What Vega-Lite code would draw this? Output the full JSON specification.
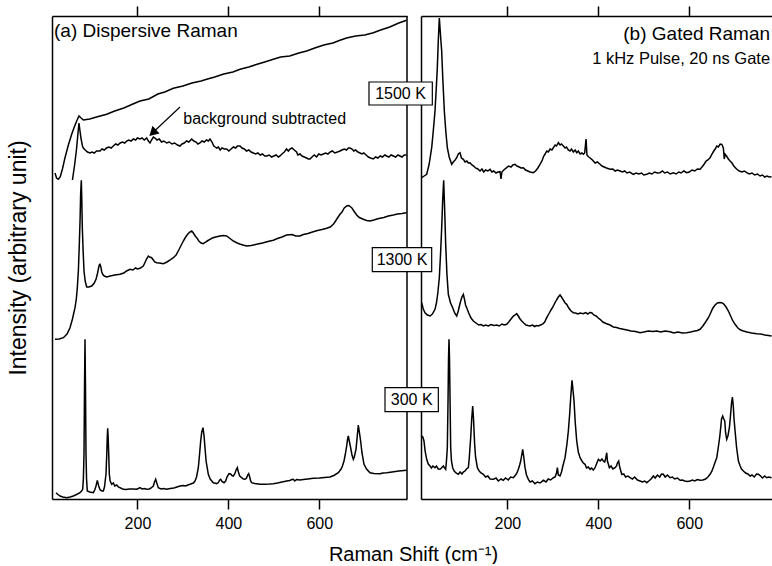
{
"$schema": "https://vega.github.io/schema/vega-lite/v6.json",
"padding": {"left": 7, "top": 5, "right": 0, "bottom": 0},
"config": {"view": {"stroke": null}, "font": "Liberation Sans",
 "axis": {"grid": false, "domainColor": "black", "domainWidth": 1.5, "tickColor": "black", "tickWidth": 1.5, "labelColor": "black", "titleColor": "black", "labelFont": "Liberation Sans", "titleFont": "Liberation Sans", "labelFontSize": 16, "titleFontSize": 20, "titleFontWeight": "normal"}},
"spacing": 14,
"bounds": "flush",
"datasets": {
"left": [
{"s":"a","x":18.6,"y":326},{"s":"a","x":22,"y":321},{"s":"a","x":25.9,"y":319.7},{"s":"a","x":30,"y":322},{"s":"a","x":35,"y":330},{"s":"a","x":40.6,"y":341.3},{"s":"a","x":48,"y":354},{"s":"a","x":55.3,"y":364.7},{"s":"a","x":61,"y":372},{"s":"a","x":66.3,"y":378},{"s":"a","x":71.4,"y":383},{"s":"a","x":76,"y":381},{"s":"a","x":81,"y":379},{"s":"a","x":95,"y":380},{"s":"a","x":110,"y":382},{"s":"a","x":132.3,"y":384.7},{"s":"a","x":150,"y":388},{"s":"a","x":170,"y":391},{"s":"a","x":190,"y":395},{"s":"a","x":205.6,"y":398},{"s":"a","x":225,"y":400},{"s":"a","x":245,"y":405},{"s":"a","x":260,"y":407},{"s":"a","x":278.9,"y":410.7},{"s":"a","x":300,"y":413},{"s":"a","x":320,"y":416},{"s":"a","x":340,"y":418},{"s":"a","x":352.3,"y":419.7},{"s":"a","x":370,"y":422},{"s":"a","x":390,"y":425},{"s":"a","x":410,"y":427},{"s":"a","x":425.6,"y":429.7},{"s":"a","x":445,"y":432},{"s":"a","x":465,"y":435},{"s":"a","x":480,"y":437},{"s":"a","x":498.9,"y":439.7},{"s":"a","x":515,"y":442},{"s":"a","x":535,"y":443},{"s":"a","x":555,"y":446},{"s":"a","x":572.2,"y":448},{"s":"a","x":590,"y":451},{"s":"a","x":610,"y":454},{"s":"a","x":630,"y":456},{"s":"a","x":645.6,"y":458.7},{"s":"a","x":660,"y":461},{"s":"a","x":680,"y":463},{"s":"a","x":700,"y":464},{"s":"a","x":718.9,"y":466.3},{"s":"a","x":735,"y":469},{"s":"a","x":755,"y":472},{"s":"a","x":775,"y":476},{"s":"a","x":792,"y":478.7},
{"s":"b","x":57,"y":319},{"s":"b","x":62,"y":335},{"s":"b","x":66,"y":350},{"s":"b","x":69,"y":365},{"s":"b","x":71.4,"y":376},{"s":"b","x":73,"y":370},{"s":"b","x":76,"y":360},{"s":"b","x":79,"y":353},{"s":"b","x":81,"y":351},{"s":"b","x":85,"y":349},{"s":"b","x":90,"y":347},{"s":"b","x":95.6,"y":346},{"s":"b","x":100,"y":347},{"s":"b","x":105,"y":346},{"s":"b","x":110,"y":348},{"s":"b","x":117.6,"y":348},{"s":"b","x":122,"y":350},{"s":"b","x":127,"y":349},{"s":"b","x":132,"y":351},{"s":"b","x":137,"y":352},{"s":"b","x":142,"y":351},{"s":"b","x":146.9,"y":353},{"s":"b","x":152,"y":355},{"s":"b","x":157,"y":354},{"s":"b","x":162,"y":356},{"s":"b","x":167,"y":357},{"s":"b","x":172,"y":356},{"s":"b","x":176.3,"y":358},{"s":"b","x":181,"y":359},{"s":"b","x":186,"y":358},{"s":"b","x":191,"y":360},{"s":"b","x":196,"y":359},{"s":"b","x":200,"y":361},{"s":"b","x":205.6,"y":360},{"s":"b","x":210,"y":361},{"s":"b","x":215,"y":359},{"s":"b","x":220.3,"y":361},{"s":"b","x":224,"y":358},{"s":"b","x":227.6,"y":356},{"s":"b","x":231,"y":359},{"s":"b","x":235,"y":362},{"s":"b","x":238.6,"y":361},{"s":"b","x":243,"y":359},{"s":"b","x":248,"y":360},{"s":"b","x":253,"y":357},{"s":"b","x":258,"y":358},{"s":"b","x":264.3,"y":356},{"s":"b","x":270,"y":357},{"s":"b","x":276,"y":355},{"s":"b","x":282,"y":356},{"s":"b","x":288,"y":354},{"s":"b","x":293.6,"y":353},{"s":"b","x":298,"y":355},{"s":"b","x":303,"y":356},{"s":"b","x":308,"y":358},{"s":"b","x":313,"y":357},{"s":"b","x":319.3,"y":360},{"s":"b","x":324,"y":358},{"s":"b","x":329,"y":357},{"s":"b","x":333,"y":355},{"s":"b","x":337.6,"y":356},{"s":"b","x":342,"y":358},{"s":"b","x":347,"y":357},{"s":"b","x":352,"y":359},{"s":"b","x":356,"y":358},{"s":"b","x":359.6,"y":360},{"s":"b","x":364,"y":357},{"s":"b","x":368,"y":353},{"s":"b","x":371,"y":352},{"s":"b","x":374.3,"y":351},{"s":"b","x":378,"y":352},{"s":"b","x":382,"y":349},{"s":"b","x":386,"y":351},{"s":"b","x":391,"y":350},{"s":"b","x":396.3,"y":350},{"s":"b","x":401,"y":348},{"s":"b","x":406,"y":350},{"s":"b","x":411,"y":352},{"s":"b","x":416,"y":351},{"s":"b","x":420,"y":353},{"s":"b","x":425.6,"y":353},{"s":"b","x":430,"y":351},{"s":"b","x":435,"y":350},{"s":"b","x":440,"y":348},{"s":"b","x":445,"y":349},{"s":"b","x":450,"y":347},{"s":"b","x":454.9,"y":346},{"s":"b","x":460,"y":345},{"s":"b","x":465,"y":346},{"s":"b","x":470,"y":344},{"s":"b","x":475,"y":345},{"s":"b","x":480,"y":343},{"s":"b","x":484.3,"y":343},{"s":"b","x":490,"y":344},{"s":"b","x":495,"y":342},{"s":"b","x":500,"y":343},{"s":"b","x":505,"y":344},{"s":"b","x":510,"y":342},{"s":"b","x":513.6,"y":343},{"s":"b","x":518,"y":345},{"s":"b","x":523,"y":347},{"s":"b","x":528,"y":350},{"s":"b","x":532,"y":348},{"s":"b","x":535.6,"y":350},{"s":"b","x":540,"y":351},{"s":"b","x":545,"y":349},{"s":"b","x":550,"y":347},{"s":"b","x":553,"y":344},{"s":"b","x":557.6,"y":345},{"s":"b","x":562,"y":343},{"s":"b","x":567,"y":342},{"s":"b","x":572,"y":341},{"s":"b","x":576,"y":340},{"s":"b","x":579.6,"y":340},{"s":"b","x":584,"y":342},{"s":"b","x":589,"y":344},{"s":"b","x":594,"y":342},{"s":"b","x":599,"y":345},{"s":"b","x":604,"y":344},{"s":"b","x":608.9,"y":345},{"s":"b","x":614,"y":346},{"s":"b","x":619,"y":345},{"s":"b","x":624,"y":347},{"s":"b","x":629,"y":348},{"s":"b","x":634,"y":346},{"s":"b","x":640,"y":347},{"s":"b","x":645.6,"y":348},{"s":"b","x":650,"y":349},{"s":"b","x":655,"y":350},{"s":"b","x":660,"y":349},{"s":"b","x":664,"y":351},{"s":"b","x":667.6,"y":351},{"s":"b","x":672,"y":350},{"s":"b","x":676,"y":348},{"s":"b","x":680,"y":349},{"s":"b","x":685,"y":347},{"s":"b","x":689.6,"y":346},{"s":"b","x":694,"y":345},{"s":"b","x":698,"y":346},{"s":"b","x":703,"y":344},{"s":"b","x":708,"y":342},{"s":"b","x":713,"y":341},{"s":"b","x":718.9,"y":340},{"s":"b","x":724,"y":342},{"s":"b","x":729,"y":341},{"s":"b","x":734,"y":343},{"s":"b","x":739,"y":342},{"s":"b","x":744,"y":344},{"s":"b","x":748.3,"y":343},{"s":"b","x":753,"y":342},{"s":"b","x":758,"y":344},{"s":"b","x":763,"y":343},{"s":"b","x":768,"y":342},{"s":"b","x":773,"y":344},{"s":"b","x":777.6,"y":343},{"s":"b","x":782,"y":342},{"s":"b","x":787,"y":344},{"s":"b","x":792,"y":344},
{"s":"c","x":18.6,"y":159.7},{"s":"c","x":28,"y":160},{"s":"c","x":37,"y":161.3},{"s":"c","x":45,"y":165},{"s":"c","x":51.6,"y":171.3},{"s":"c","x":57,"y":180},{"s":"c","x":62.6,"y":191.3},{"s":"c","x":65.5,"y":200},{"s":"c","x":67.7,"y":211.3},{"s":"c","x":70,"y":228},{"s":"c","x":72.1,"y":254.7},{"s":"c","x":73.8,"y":280},{"s":"c","x":75,"y":304.7},{"s":"c","x":76.5,"y":318.7},{"s":"c","x":77.5,"y":300},{"s":"c","x":78.7,"y":271.3},{"s":"c","x":80.5,"y":248},{"s":"c","x":82.4,"y":228},{"s":"c","x":85,"y":218},{"s":"c","x":88.3,"y":212},{"s":"c","x":93,"y":212},{"s":"c","x":99.3,"y":213},{"s":"c","x":105,"y":216},{"s":"c","x":109,"y":220},{"s":"c","x":111.7,"y":224.7},{"s":"c","x":114,"y":230},{"s":"c","x":116,"y":234},{"s":"c","x":117.6,"y":234.7},{"s":"c","x":119.5,"y":232},{"s":"c","x":121.5,"y":227},{"s":"c","x":123.5,"y":224.7},{"s":"c","x":127,"y":223},{"s":"c","x":132.3,"y":222},{"s":"c","x":140,"y":223},{"s":"c","x":150,"y":224},{"s":"c","x":161.6,"y":224.7},{"s":"c","x":170,"y":226},{"s":"c","x":176,"y":228},{"s":"c","x":183.6,"y":229.7},{"s":"c","x":190,"y":229},{"s":"c","x":196,"y":231},{"s":"c","x":200,"y":230},{"s":"c","x":205.6,"y":230.7},{"s":"c","x":210,"y":232},{"s":"c","x":212.9,"y":233},{"s":"c","x":216,"y":236},{"s":"c","x":220,"y":240},{"s":"c","x":223.9,"y":243},{"s":"c","x":227,"y":242},{"s":"c","x":231.2,"y":241.3},{"s":"c","x":235,"y":239},{"s":"c","x":238,"y":237},{"s":"c","x":242.3,"y":236.3},{"s":"c","x":248,"y":236},{"s":"c","x":256.9,"y":235.3},{"s":"c","x":265,"y":237},{"s":"c","x":272,"y":239},{"s":"c","x":278.9,"y":241.3},{"s":"c","x":285,"y":244},{"s":"c","x":292,"y":250},{"s":"c","x":300.9,"y":258},{"s":"c","x":306,"y":262},{"s":"c","x":311,"y":265},{"s":"c","x":315,"y":267},{"s":"c","x":319.3,"y":268},{"s":"c","x":323,"y":266},{"s":"c","x":327,"y":263},{"s":"c","x":330.3,"y":261.3},{"s":"c","x":335,"y":258},{"s":"c","x":340,"y":256},{"s":"c","x":344.9,"y":255.3},{"s":"c","x":350,"y":257},{"s":"c","x":355,"y":258.5},{"s":"c","x":359.6,"y":259.7},{"s":"c","x":365,"y":261},{"s":"c","x":372,"y":262},{"s":"c","x":381.6,"y":263},{"s":"c","x":388,"y":263.5},{"s":"c","x":396.3,"y":263},{"s":"c","x":405,"y":260},{"s":"c","x":411,"y":258},{"s":"c","x":418.3,"y":256.3},{"s":"c","x":425,"y":255},{"s":"c","x":432,"y":254},{"s":"c","x":440.2,"y":253},{"s":"c","x":450,"y":253.5},{"s":"c","x":462.2,"y":254.7},{"s":"c","x":475,"y":256},{"s":"c","x":487,"y":257.5},{"s":"c","x":498.9,"y":258.7},{"s":"c","x":508,"y":260.5},{"s":"c","x":518,"y":262},{"s":"c","x":528.3,"y":264},{"s":"c","x":540,"y":264.5},{"s":"c","x":548,"y":263},{"s":"c","x":557.6,"y":263},{"s":"c","x":565,"y":264.5},{"s":"c","x":575,"y":265.5},{"s":"c","x":586.9,"y":267.3},{"s":"c","x":596,"y":268.5},{"s":"c","x":606,"y":269.5},{"s":"c","x":616.3,"y":270.7},{"s":"c","x":624,"y":272},{"s":"c","x":630.9,"y":274.7},{"s":"c","x":636,"y":278},{"s":"c","x":640,"y":281},{"s":"c","x":645.6,"y":284.7},{"s":"c","x":650,"y":287},{"s":"c","x":655,"y":291},{"s":"c","x":660.3,"y":293},{"s":"c","x":665,"y":293.5},{"s":"c","x":671.3,"y":291.3},{"s":"c","x":676,"y":288},{"s":"c","x":682.3,"y":284},{"s":"c","x":688,"y":281.5},{"s":"c","x":696.9,"y":279.7},{"s":"c","x":704,"y":278.5},{"s":"c","x":711.6,"y":278},{"s":"c","x":720,"y":279},{"s":"c","x":727,"y":280},{"s":"c","x":733.6,"y":280.7},{"s":"c","x":742,"y":281.5},{"s":"c","x":752,"y":283},{"s":"c","x":762.9,"y":284},{"s":"c","x":772,"y":285},{"s":"c","x":782,"y":285.5},{"s":"c","x":792,"y":286.3},
{"s":"d","x":20.8,"y":6.3},{"s":"d","x":25,"y":4.5},{"s":"d","x":29.6,"y":3},{"s":"d","x":36,"y":2},{"s":"d","x":44.3,"y":1.3},{"s":"d","x":52,"y":2},{"s":"d","x":58.9,"y":3},{"s":"d","x":66,"y":4.5},{"s":"d","x":73.6,"y":6.3},{"s":"d","x":77,"y":8},{"s":"d","x":79.5,"y":9.7},{"s":"d","x":81,"y":20},{"s":"d","x":82.4,"y":44.7},{"s":"d","x":83.5,"y":110},{"s":"d","x":84.6,"y":159.7},{"s":"d","x":85.7,"y":110},{"s":"d","x":86.8,"y":44.7},{"s":"d","x":88,"y":20},{"s":"d","x":89.7,"y":8},{"s":"d","x":95,"y":7},{"s":"d","x":103,"y":6.3},{"s":"d","x":106,"y":9},{"s":"d","x":108.8,"y":13},{"s":"d","x":111.7,"y":18.7},{"s":"d","x":114.7,"y":13},{"s":"d","x":118,"y":9},{"s":"d","x":122,"y":8},{"s":"d","x":124.9,"y":8},{"s":"d","x":127.5,"y":12},{"s":"d","x":129.5,"y":20},{"s":"d","x":130.8,"y":24.7},{"s":"d","x":132.5,"y":45},{"s":"d","x":133.6,"y":62},{"s":"d","x":134.5,"y":70.7},{"s":"d","x":135.5,"y":62},{"s":"d","x":136.8,"y":45},{"s":"d","x":138.1,"y":24.7},{"s":"d","x":140,"y":18},{"s":"d","x":143.3,"y":14.7},{"s":"d","x":147,"y":16},{"s":"d","x":150,"y":13},{"s":"d","x":154.3,"y":14},{"s":"d","x":158,"y":12},{"s":"d","x":163,"y":11},{"s":"d","x":168.9,"y":9.7},{"s":"d","x":175,"y":9.5},{"s":"d","x":182,"y":10},{"s":"d","x":190,"y":10},{"s":"d","x":198.3,"y":9.7},{"s":"d","x":202,"y":10.5},{"s":"d","x":205.6,"y":11.3},{"s":"d","x":210,"y":10},{"s":"d","x":215,"y":10.5},{"s":"d","x":220.3,"y":9.7},{"s":"d","x":226,"y":10},{"s":"d","x":230,"y":11},{"s":"d","x":234.9,"y":13},{"s":"d","x":237.5,"y":17},{"s":"d","x":240.1,"y":19.7},{"s":"d","x":242.5,"y":16},{"s":"d","x":245.9,"y":11.3},{"s":"d","x":252,"y":10},{"s":"d","x":258,"y":10.5},{"s":"d","x":264.3,"y":9.7},{"s":"d","x":272,"y":10.5},{"s":"d","x":280,"y":11},{"s":"d","x":287,"y":12},{"s":"d","x":293.6,"y":13},{"s":"d","x":300,"y":13.5},{"s":"d","x":306,"y":13},{"s":"d","x":311,"y":14},{"s":"d","x":315.6,"y":14.7},{"s":"d","x":320,"y":15.5},{"s":"d","x":323,"y":16},{"s":"d","x":326.6,"y":18},{"s":"d","x":330,"y":22},{"s":"d","x":333.9,"y":31.3},{"s":"d","x":336.5,"y":44},{"s":"d","x":339.1,"y":58},{"s":"d","x":341.5,"y":67},{"s":"d","x":344.2,"y":71.3},{"s":"d","x":346.5,"y":63},{"s":"d","x":348.6,"y":51.3},{"s":"d","x":351,"y":38},{"s":"d","x":355.9,"y":24.7},{"s":"d","x":360,"y":20},{"s":"d","x":366.9,"y":16.3},{"s":"d","x":370,"y":16},{"s":"d","x":374.3,"y":15.3},{"s":"d","x":378,"y":16.5},{"s":"d","x":381,"y":19},{"s":"d","x":383.1,"y":19.7},{"s":"d","x":386,"y":17.5},{"s":"d","x":390.4,"y":16.3},{"s":"d","x":394,"y":18},{"s":"d","x":397,"y":22},{"s":"d","x":401.4,"y":25.3},{"s":"d","x":405,"y":25},{"s":"d","x":408,"y":23.5},{"s":"d","x":410.9,"y":23},{"s":"d","x":414,"y":25},{"s":"d","x":417,"y":29},{"s":"d","x":419.7,"y":31.3},{"s":"d","x":422,"y":27},{"s":"d","x":425,"y":23},{"s":"d","x":429.3,"y":21.3},{"s":"d","x":433,"y":20},{"s":"d","x":436.6,"y":19.7},{"s":"d","x":440,"y":21},{"s":"d","x":442.5,"y":24},{"s":"d","x":444.7,"y":25.3},{"s":"d","x":447,"y":22},{"s":"d","x":449,"y":18},{"s":"d","x":451.3,"y":16.3},{"s":"d","x":458,"y":15.5},{"s":"d","x":469.6,"y":14.7},{"s":"d","x":480,"y":14.8},{"s":"d","x":490,"y":15},{"s":"d","x":498.9,"y":15.3},{"s":"d","x":508,"y":16},{"s":"d","x":518,"y":17},{"s":"d","x":528.3,"y":18},{"s":"d","x":535,"y":18.5},{"s":"d","x":540,"y":19.5},{"s":"d","x":542.9,"y":19.7},{"s":"d","x":546,"y":18},{"s":"d","x":550,"y":19.5},{"s":"d","x":557.6,"y":19},{"s":"d","x":565,"y":19.5},{"s":"d","x":575,"y":20},{"s":"d","x":586.9,"y":20.7},{"s":"d","x":600,"y":21},{"s":"d","x":612,"y":21.5},{"s":"d","x":623.6,"y":22},{"s":"d","x":632,"y":23.5},{"s":"d","x":641.9,"y":26.3},{"s":"d","x":648,"y":30},{"s":"d","x":651,"y":33},{"s":"d","x":654.4,"y":38},{"s":"d","x":657,"y":44},{"s":"d","x":660.3,"y":53},{"s":"d","x":662,"y":59},{"s":"d","x":663.9,"y":63},{"s":"d","x":666,"y":58},{"s":"d","x":669,"y":51.3},{"s":"d","x":672,"y":44},{"s":"d","x":674.9,"y":39.7},{"s":"d","x":677,"y":42},{"s":"d","x":680.8,"y":49.7},{"s":"d","x":683,"y":60},{"s":"d","x":685.9,"y":74},{"s":"d","x":688.5,"y":66},{"s":"d","x":691,"y":58},{"s":"d","x":694,"y":46},{"s":"d","x":698.4,"y":34.7},{"s":"d","x":704,"y":30},{"s":"d","x":711.6,"y":26.3},{"s":"d","x":720,"y":25.5},{"s":"d","x":733.6,"y":25.3},{"s":"d","x":740,"y":26},{"s":"d","x":748.3,"y":26.3},{"s":"d","x":760,"y":27},{"s":"d","x":775,"y":28},{"s":"d","x":792,"y":28.7}
],
"right": [
{"s":"e","x":11.5,"y":321.3},{"s":"e","x":17,"y":323},{"s":"e","x":22.5,"y":324.7},{"s":"e","x":28,"y":335},{"s":"e","x":33.5,"y":351.3},{"s":"e","x":37,"y":368},{"s":"e","x":40.8,"y":388},{"s":"e","x":43.5,"y":410},{"s":"e","x":45.9,"y":431.3},{"s":"e","x":48,"y":458},{"s":"e","x":50.3,"y":481},{"s":"e","x":52,"y":470},{"s":"e","x":53.5,"y":460},{"s":"e","x":55.5,"y":448},{"s":"e","x":58,"y":420},{"s":"e","x":61.3,"y":388},{"s":"e","x":64.5,"y":368},{"s":"e","x":67.9,"y":351.3},{"s":"e","x":72,"y":342},{"s":"e","x":77.5,"y":334.7},{"s":"e","x":81,"y":337},{"s":"e","x":85,"y":339},{"s":"e","x":88.5,"y":341.3},{"s":"e","x":92,"y":345},{"s":"e","x":95.8,"y":346.3},{"s":"e","x":99,"y":341},{"s":"e","x":103.1,"y":339.7},{"s":"e","x":107,"y":337},{"s":"e","x":111,"y":338},{"s":"e","x":114,"y":336},{"s":"e","x":117.8,"y":336.3},{"s":"e","x":122,"y":334},{"s":"e","x":126,"y":333},{"s":"e","x":130,"y":331},{"s":"e","x":135,"y":330},{"s":"e","x":139.8,"y":328},{"s":"e","x":144,"y":330},{"s":"e","x":148,"y":327},{"s":"e","x":152,"y":329},{"s":"e","x":157,"y":328},{"s":"e","x":161.8,"y":329.7},{"s":"e","x":166,"y":327},{"s":"e","x":170,"y":328},{"s":"e","x":175,"y":326},{"s":"e","x":179,"y":327},{"s":"e","x":183.8,"y":327.3},{"s":"e","x":186,"y":320},{"s":"e","x":188,"y":327},{"s":"e","x":192,"y":329},{"s":"e","x":198.5,"y":331.3},{"s":"e","x":203,"y":333},{"s":"e","x":208,"y":332},{"s":"e","x":212,"y":334},{"s":"e","x":216.8,"y":334.7},{"s":"e","x":221,"y":333},{"s":"e","x":226,"y":332},{"s":"e","x":230,"y":331},{"s":"e","x":235.1,"y":331.3},{"s":"e","x":240,"y":329},{"s":"e","x":245,"y":328},{"s":"e","x":250,"y":327},{"s":"e","x":257.1,"y":326.3},{"s":"e","x":262,"y":328},{"s":"e","x":267,"y":331},{"s":"e","x":271.8,"y":334.7},{"s":"e","x":276,"y":338},{"s":"e","x":280,"y":343},{"s":"e","x":283,"y":345},{"s":"e","x":286.5,"y":348},{"s":"e","x":290,"y":347},{"s":"e","x":294,"y":350},{"s":"e","x":298,"y":349},{"s":"e","x":301.1,"y":351.3},{"s":"e","x":305,"y":354},{"s":"e","x":308,"y":353},{"s":"e","x":312.1,"y":356.3},{"s":"e","x":316,"y":354},{"s":"e","x":319,"y":355},{"s":"e","x":323.1,"y":353},{"s":"e","x":327,"y":351},{"s":"e","x":330,"y":352},{"s":"e","x":334,"y":349},{"s":"e","x":337.8,"y":348},{"s":"e","x":341,"y":350},{"s":"e","x":345,"y":347},{"s":"e","x":349,"y":349},{"s":"e","x":352.5,"y":346.3},{"s":"e","x":356,"y":348},{"s":"e","x":360,"y":345},{"s":"e","x":364,"y":346},{"s":"e","x":367.1,"y":344.7},{"s":"e","x":370,"y":346},{"s":"e","x":373,"y":360},{"s":"e","x":375,"y":344},{"s":"e","x":379,"y":342},{"s":"e","x":382,"y":341},{"s":"e","x":385.5,"y":339.7},{"s":"e","x":389,"y":338},{"s":"e","x":393,"y":336},{"s":"e","x":398,"y":337},{"s":"e","x":403.8,"y":334.7},{"s":"e","x":408,"y":333},{"s":"e","x":413,"y":332},{"s":"e","x":418,"y":331},{"s":"e","x":425.8,"y":329.7},{"s":"e","x":432,"y":330},{"s":"e","x":437,"y":328},{"s":"e","x":442,"y":329},{"s":"e","x":447.8,"y":328},{"s":"e","x":453,"y":327},{"s":"e","x":458,"y":328},{"s":"e","x":463,"y":326},{"s":"e","x":469,"y":327},{"s":"e","x":477.1,"y":324.7},{"s":"e","x":483,"y":326},{"s":"e","x":489,"y":325},{"s":"e","x":495,"y":326},{"s":"e","x":500,"y":324},{"s":"e","x":506.5,"y":324.7},{"s":"e","x":512,"y":326},{"s":"e","x":518,"y":325},{"s":"e","x":524,"y":327},{"s":"e","x":530,"y":326},{"s":"e","x":535.8,"y":326.3},{"s":"e","x":541,"y":328},{"s":"e","x":546,"y":326},{"s":"e","x":552,"y":327},{"s":"e","x":558,"y":325},{"s":"e","x":565.1,"y":326.3},{"s":"e","x":571,"y":325},{"s":"e","x":577,"y":327},{"s":"e","x":582,"y":326},{"s":"e","x":588,"y":328},{"s":"e","x":594.4,"y":326.3},{"s":"e","x":600,"y":327},{"s":"e","x":606,"y":329},{"s":"e","x":612,"y":328},{"s":"e","x":618,"y":330},{"s":"e","x":623.8,"y":329.7},{"s":"e","x":628,"y":332},{"s":"e","x":633,"y":335},{"s":"e","x":637,"y":338},{"s":"e","x":641,"y":339},{"s":"e","x":645.8,"y":341.3},{"s":"e","x":650,"y":345},{"s":"e","x":654,"y":348},{"s":"e","x":657,"y":350},{"s":"e","x":660.5,"y":353},{"s":"e","x":664,"y":352},{"s":"e","x":668,"y":355},{"s":"e","x":671.5,"y":354.7},{"s":"e","x":675,"y":351},{"s":"e","x":677,"y":340},{"s":"e","x":678.8,"y":344.7},{"s":"e","x":682,"y":343},{"s":"e","x":686,"y":340},{"s":"e","x":689.8,"y":338},{"s":"e","x":694,"y":336},{"s":"e","x":698,"y":333},{"s":"e","x":704.5,"y":329.7},{"s":"e","x":710,"y":328},{"s":"e","x":716,"y":327},{"s":"e","x":721,"y":328},{"s":"e","x":726.5,"y":326.3},{"s":"e","x":732,"y":325},{"s":"e","x":738,"y":326},{"s":"e","x":744,"y":324},{"s":"e","x":750,"y":325},{"s":"e","x":755.8,"y":323},{"s":"e","x":761,"y":324},{"s":"e","x":766,"y":322},{"s":"e","x":771,"y":323},{"s":"e","x":776,"y":322},{"s":"e","x":781,"y":322.3},
{"s":"f","x":11.5,"y":196.3},{"s":"f","x":15,"y":190},{"s":"f","x":18.8,"y":186.3},{"s":"f","x":24,"y":184},{"s":"f","x":29.8,"y":183},{"s":"f","x":35,"y":185},{"s":"f","x":40.8,"y":189.7},{"s":"f","x":44,"y":196},{"s":"f","x":47,"y":206},{"s":"f","x":50.3,"y":221.3},{"s":"f","x":53,"y":245},{"s":"f","x":55.5,"y":271.3},{"s":"f","x":57.8,"y":300},{"s":"f","x":59.9,"y":318.7},{"s":"f","x":62,"y":290},{"s":"f","x":64.3,"y":254.7},{"s":"f","x":67,"y":225},{"s":"f","x":70.1,"y":204.7},{"s":"f","x":75,"y":196},{"s":"f","x":79.7,"y":191.3},{"s":"f","x":84,"y":186},{"s":"f","x":88.5,"y":183},{"s":"f","x":92,"y":188},{"s":"f","x":95,"y":194},{"s":"f","x":97.3,"y":198},{"s":"f","x":100,"y":202},{"s":"f","x":103.1,"y":204.7},{"s":"f","x":106,"y":199},{"s":"f","x":108,"y":194},{"s":"f","x":110.5,"y":191.3},{"s":"f","x":115,"y":186},{"s":"f","x":120,"y":181},{"s":"f","x":125.1,"y":178},{"s":"f","x":131,"y":176},{"s":"f","x":137,"y":174},{"s":"f","x":142,"y":174.5},{"s":"f","x":147.1,"y":173},{"s":"f","x":152,"y":174},{"s":"f","x":158,"y":173},{"s":"f","x":164,"y":174.5},{"s":"f","x":170,"y":173.5},{"s":"f","x":176.5,"y":174},{"s":"f","x":182,"y":173},{"s":"f","x":188,"y":175},{"s":"f","x":193,"y":174},{"s":"f","x":198.5,"y":174.7},{"s":"f","x":203,"y":177},{"s":"f","x":208,"y":180},{"s":"f","x":213.1,"y":183},{"s":"f","x":217,"y":184},{"s":"f","x":220.5,"y":185.3},{"s":"f","x":224,"y":183},{"s":"f","x":228,"y":180},{"s":"f","x":231.5,"y":178},{"s":"f","x":236,"y":176},{"s":"f","x":241,"y":174},{"s":"f","x":245,"y":173.5},{"s":"f","x":249.8,"y":173},{"s":"f","x":255,"y":174},{"s":"f","x":260,"y":172.5},{"s":"f","x":264,"y":173.5},{"s":"f","x":268.1,"y":173},{"s":"f","x":273,"y":174},{"s":"f","x":278,"y":175},{"s":"f","x":282,"y":177},{"s":"f","x":286.5,"y":181.3},{"s":"f","x":291,"y":185},{"s":"f","x":296,"y":189},{"s":"f","x":300,"y":192},{"s":"f","x":304.8,"y":196.3},{"s":"f","x":308,"y":199},{"s":"f","x":312,"y":202},{"s":"f","x":315.8,"y":204},{"s":"f","x":319,"y":202},{"s":"f","x":323,"y":199},{"s":"f","x":327,"y":196},{"s":"f","x":330.5,"y":194.7},{"s":"f","x":335,"y":191},{"s":"f","x":340,"y":188},{"s":"f","x":345.1,"y":186.3},{"s":"f","x":350,"y":186},{"s":"f","x":355,"y":185},{"s":"f","x":360,"y":186},{"s":"f","x":367.1,"y":185.3},{"s":"f","x":372,"y":186.5},{"s":"f","x":377,"y":185},{"s":"f","x":381,"y":186.5},{"s":"f","x":385.5,"y":186.3},{"s":"f","x":390,"y":184},{"s":"f","x":395,"y":183},{"s":"f","x":400,"y":181},{"s":"f","x":403.8,"y":179.7},{"s":"f","x":410,"y":177},{"s":"f","x":417,"y":175.5},{"s":"f","x":425.8,"y":174},{"s":"f","x":433,"y":172},{"s":"f","x":440,"y":171.5},{"s":"f","x":447,"y":170.5},{"s":"f","x":455.1,"y":169.7},{"s":"f","x":463,"y":169},{"s":"f","x":472,"y":168},{"s":"f","x":482,"y":167.5},{"s":"f","x":491.8,"y":166.3},{"s":"f","x":500,"y":167},{"s":"f","x":510,"y":168},{"s":"f","x":520,"y":167.5},{"s":"f","x":528.5,"y":168},{"s":"f","x":537,"y":167},{"s":"f","x":547,"y":168},{"s":"f","x":557.8,"y":167.3},{"s":"f","x":566,"y":166},{"s":"f","x":575,"y":167},{"s":"f","x":585,"y":166},{"s":"f","x":594.4,"y":166.3},{"s":"f","x":603,"y":167},{"s":"f","x":612,"y":168},{"s":"f","x":618,"y":168.5},{"s":"f","x":623.8,"y":169.7},{"s":"f","x":630,"y":173},{"s":"f","x":636,"y":177},{"s":"f","x":642.1,"y":181.3},{"s":"f","x":648,"y":187},{"s":"f","x":652,"y":191},{"s":"f","x":656.8,"y":194},{"s":"f","x":662,"y":196},{"s":"f","x":667,"y":196.5},{"s":"f","x":671.5,"y":196.3},{"s":"f","x":676,"y":195},{"s":"f","x":681,"y":192},{"s":"f","x":686.1,"y":188},{"s":"f","x":691,"y":183},{"s":"f","x":696,"y":178},{"s":"f","x":700.8,"y":174.7},{"s":"f","x":707,"y":171},{"s":"f","x":713,"y":169},{"s":"f","x":719.1,"y":168},{"s":"f","x":727,"y":167},{"s":"f","x":737,"y":166},{"s":"f","x":748.5,"y":165.3},{"s":"f","x":757,"y":165},{"s":"f","x":766,"y":164},{"s":"f","x":774,"y":163.5},{"s":"f","x":781,"y":163},
{"s":"g","x":11.5,"y":63},{"s":"g","x":14,"y":62},{"s":"g","x":16.6,"y":58},{"s":"g","x":19,"y":48},{"s":"g","x":22.5,"y":39.7},{"s":"g","x":26,"y":35},{"s":"g","x":29.8,"y":33},{"s":"g","x":33,"y":31},{"s":"g","x":36,"y":33},{"s":"g","x":40.8,"y":31.3},{"s":"g","x":44,"y":33},{"s":"g","x":48,"y":30},{"s":"g","x":51.8,"y":29.7},{"s":"g","x":55,"y":31},{"s":"g","x":59.1,"y":33},{"s":"g","x":62,"y":31},{"s":"g","x":64.3,"y":29.7},{"s":"g","x":66,"y":38},{"s":"g","x":67.9,"y":51.3},{"s":"g","x":69.5,"y":100},{"s":"g","x":70.5,"y":140},{"s":"g","x":71.6,"y":159.7},{"s":"g","x":72.7,"y":140},{"s":"g","x":74,"y":95},{"s":"g","x":75.3,"y":51.3},{"s":"g","x":77,"y":38},{"s":"g","x":79.7,"y":31.3},{"s":"g","x":83,"y":28},{"s":"g","x":87,"y":26},{"s":"g","x":92.1,"y":24.7},{"s":"g","x":96,"y":27},{"s":"g","x":100,"y":25},{"s":"g","x":103,"y":27},{"s":"g","x":106.8,"y":28},{"s":"g","x":110,"y":30},{"s":"g","x":114.1,"y":31.3},{"s":"g","x":116,"y":40},{"s":"g","x":117.5,"y":50},{"s":"g","x":119.3,"y":61.3},{"s":"g","x":121.5,"y":80},{"s":"g","x":123.7,"y":93},{"s":"g","x":125.5,"y":80},{"s":"g","x":128,"y":54.7},{"s":"g","x":130,"y":42},{"s":"g","x":134,"y":31.3},{"s":"g","x":138,"y":28},{"s":"g","x":142,"y":26},{"s":"g","x":147.1,"y":24.7},{"s":"g","x":152,"y":22},{"s":"g","x":157,"y":23},{"s":"g","x":162,"y":20},{"s":"g","x":169.1,"y":19.7},{"s":"g","x":175,"y":21},{"s":"g","x":180,"y":18},{"s":"g","x":186,"y":20},{"s":"g","x":191.1,"y":18.7},{"s":"g","x":196,"y":21},{"s":"g","x":202,"y":19},{"s":"g","x":207,"y":22},{"s":"g","x":213.1,"y":21.3},{"s":"g","x":218,"y":24},{"s":"g","x":221,"y":26},{"s":"g","x":224.1,"y":29.7},{"s":"g","x":227,"y":34},{"s":"g","x":229.3,"y":38},{"s":"g","x":231.5,"y":44},{"s":"g","x":233.7,"y":49.7},{"s":"g","x":236,"y":42},{"s":"g","x":238.8,"y":31.3},{"s":"g","x":242,"y":24},{"s":"g","x":246.1,"y":19.7},{"s":"g","x":250,"y":17},{"s":"g","x":255,"y":18},{"s":"g","x":260.8,"y":15.3},{"s":"g","x":266,"y":17},{"s":"g","x":272,"y":16},{"s":"g","x":279.1,"y":18.7},{"s":"g","x":285,"y":17},{"s":"g","x":290,"y":20},{"s":"g","x":295,"y":19},{"s":"g","x":301.1,"y":21.3},{"s":"g","x":305,"y":22},{"s":"g","x":308,"y":26},{"s":"g","x":310,"y":31.3},{"s":"g","x":312,"y":24},{"s":"g","x":315.8,"y":23},{"s":"g","x":319,"y":27},{"s":"g","x":322,"y":33},{"s":"g","x":326.8,"y":41.3},{"s":"g","x":331,"y":55},{"s":"g","x":334.1,"y":68},{"s":"g","x":337,"y":85},{"s":"g","x":339.2,"y":101.3},{"s":"g","x":342.2,"y":118.7},{"s":"g","x":344.5,"y":108},{"s":"g","x":346.6,"y":98},{"s":"g","x":349,"y":78},{"s":"g","x":352.5,"y":58},{"s":"g","x":356,"y":47},{"s":"g","x":359.8,"y":41.3},{"s":"g","x":364,"y":38},{"s":"g","x":367,"y":36},{"s":"g","x":370.8,"y":34.7},{"s":"g","x":374,"y":31},{"s":"g","x":378,"y":32},{"s":"g","x":381.8,"y":29.7},{"s":"g","x":385,"y":31},{"s":"g","x":389,"y":29},{"s":"g","x":392.8,"y":31.3},{"s":"g","x":396,"y":35},{"s":"g","x":400.1,"y":39.7},{"s":"g","x":404,"y":38},{"s":"g","x":408,"y":40},{"s":"g","x":411.1,"y":38},{"s":"g","x":414,"y":37},{"s":"g","x":416,"y":40},{"s":"g","x":418.5,"y":46.3},{"s":"g","x":420,"y":38},{"s":"g","x":422,"y":35},{"s":"g","x":424.3,"y":31.3},{"s":"g","x":428,"y":33},{"s":"g","x":432,"y":30},{"s":"g","x":436.8,"y":31.3},{"s":"g","x":440,"y":33},{"s":"g","x":442,"y":36},{"s":"g","x":444.8,"y":38},{"s":"g","x":447,"y":32},{"s":"g","x":451.5,"y":24.7},{"s":"g","x":456,"y":25},{"s":"g","x":460,"y":22},{"s":"g","x":465,"y":23},{"s":"g","x":469.8,"y":21.3},{"s":"g","x":475,"y":20},{"s":"g","x":480,"y":22},{"s":"g","x":486,"y":19},{"s":"g","x":491.8,"y":18},{"s":"g","x":497,"y":17},{"s":"g","x":502,"y":18},{"s":"g","x":506.5,"y":16.3},{"s":"g","x":511,"y":18},{"s":"g","x":516,"y":20},{"s":"g","x":521.1,"y":23},{"s":"g","x":525,"y":21},{"s":"g","x":530,"y":24},{"s":"g","x":535,"y":22},{"s":"g","x":539,"y":25},{"s":"g","x":543.1,"y":24.7},{"s":"g","x":547,"y":22},{"s":"g","x":552,"y":24},{"s":"g","x":557.8,"y":21.3},{"s":"g","x":563,"y":22},{"s":"g","x":568,"y":20},{"s":"g","x":574,"y":21},{"s":"g","x":579.8,"y":18.7},{"s":"g","x":585,"y":19},{"s":"g","x":590,"y":18},{"s":"g","x":596,"y":17.5},{"s":"g","x":601.8,"y":18},{"s":"g","x":607,"y":19},{"s":"g","x":612,"y":18},{"s":"g","x":618,"y":19.5},{"s":"g","x":623.8,"y":18.7},{"s":"g","x":630,"y":19},{"s":"g","x":636,"y":20},{"s":"g","x":641,"y":22},{"s":"g","x":645.8,"y":24.7},{"s":"g","x":650,"y":28},{"s":"g","x":654,"y":33},{"s":"g","x":657,"y":37},{"s":"g","x":660.5,"y":41.3},{"s":"g","x":664,"y":52},{"s":"g","x":667,"y":62},{"s":"g","x":669.2,"y":71.3},{"s":"g","x":671,"y":80},{"s":"g","x":673.6,"y":83},{"s":"g","x":676,"y":80},{"s":"g","x":678.1,"y":78},{"s":"g","x":680,"y":66},{"s":"g","x":682.4,"y":59.7},{"s":"g","x":685,"y":63},{"s":"g","x":688.3,"y":71.3},{"s":"g","x":691,"y":85},{"s":"g","x":693,"y":96},{"s":"g","x":694.9,"y":102},{"s":"g","x":697,"y":92},{"s":"g","x":698.5,"y":80},{"s":"g","x":700.8,"y":68},{"s":"g","x":704,"y":52},{"s":"g","x":708.1,"y":38},{"s":"g","x":712,"y":33},{"s":"g","x":715,"y":30},{"s":"g","x":719.1,"y":28},{"s":"g","x":724,"y":26},{"s":"g","x":729,"y":25},{"s":"g","x":733.8,"y":23},{"s":"g","x":738,"y":24},{"s":"g","x":743,"y":22},{"s":"g","x":748,"y":25},{"s":"g","x":752.1,"y":24.7},{"s":"g","x":757,"y":23},{"s":"g","x":761,"y":21},{"s":"g","x":766,"y":23},{"s":"g","x":770.4,"y":21.3},{"s":"g","x":775,"y":22},{"s":"g","x":781,"y":21.3}
]
},
"hconcat": [
{
 "width": 355, "height": 483,
 "layer": [
  {"data": {"name": "left"}, "mark": {"type": "line", "color": "black", "strokeWidth": 1.5},
   "encoding": {
    "x": {"field": "x", "type": "quantitative", "scale": {"domain": [12, 793], "nice": false, "zero": false},
      "axis": {"orient": "bottom", "values": [200, 400, 600], "tickSize": 10, "labelPadding": 6, "title": "Raman Shift (cm⁻¹)", "titleX": 361, "titleY": 55, "titleBaseline": "middle", "titleAlign": "center", "titleAnchor": null}},
    "y": {"field": "y", "type": "quantitative", "scale": {"domain": [0, 483], "nice": false, "zero": false},
      "axis": {"orient": "left", "ticks": false, "labels": false, "title": "Intensity (arbitrary unit)", "titleFontSize": 23, "titleX": -34, "titleY": 241.5, "titleAngle": -90, "titleBaseline": "middle", "titleAlign": "center"}},
    "detail": {"field": "s"}}},
  {"data": {"values": [{"x": 793}]}, "mark": {"type": "rule", "color": "black", "strokeWidth": 1.5},
   "encoding": {"x": {"field": "x", "type": "quantitative", "axis": {"orient": "top", "values": [200, 400, 600], "tickSize": 10, "labels": false, "title": null}}}},
  {"data": {"values": [{"x": 16.4, "y": 468, "t": "(a) Dispersive Raman"}]}, "mark": {"type": "text", "align": "left", "baseline": "middle", "fontSize": 19, "color": "black"},
   "encoding": {"x": {"field": "x", "type": "quantitative", "axis": null}, "y": {"field": "y", "type": "quantitative", "axis": null}, "text": {"field": "t"}}},
  {"data": {"values": [{"x": 300.9, "y": 380, "t": "background subtracted"}]}, "mark": {"type": "text", "align": "left", "baseline": "middle", "fontSize": 16, "color": "black"},
   "encoding": {"x": {"field": "x", "type": "quantitative", "axis": null}, "y": {"field": "y", "type": "quantitative", "axis": null}, "text": {"field": "t"}}},
  {"data": {"values": [{"x": 293.6, "y": 392, "x2": 233.5, "y2": 366.2}]}, "mark": {"type": "rule", "color": "black", "strokeWidth": 1.2},
   "encoding": {"x": {"field": "x", "type": "quantitative", "axis": null}, "y": {"field": "y", "type": "quantitative", "axis": null}, "x2": {"field": "x2"}, "y2": {"field": "y2"}}},
  {"data": {"values": [{"x": 233.5, "y": 366.2}]}, "mark": {"type": "point", "shape": "triangle-up", "filled": true, "color": "black", "opacity": 1, "size": 110, "angle": 227},
   "encoding": {"x": {"field": "x", "type": "quantitative", "axis": null}, "y": {"field": "y", "type": "quantitative", "axis": null}}}
 ],
 "resolve": {"axis": {"x": "independent", "y": "independent"}}
},
{
 "width": 351, "height": 483,
 "layer": [
  {"data": {"name": "right"}, "mark": {"type": "line", "color": "black", "strokeWidth": 1.5},
   "encoding": {
    "x": {"field": "x", "type": "quantitative", "scale": {"domain": [10, 782], "nice": false, "zero": false},
      "axis": {"orient": "bottom", "values": [200, 400, 600], "tickSize": 10, "labelPadding": 6, "title": null}},
    "y": {"field": "y", "type": "quantitative", "scale": {"domain": [0, 483], "nice": false, "zero": false},
      "axis": {"orient": "left", "ticks": false, "labels": false, "title": null}},
    "detail": {"field": "s"}}},
  {"data": {"values": [{"x": 10}]}, "mark": {"type": "rule", "opacity": 0},
   "encoding": {"x": {"field": "x", "type": "quantitative", "axis": {"orient": "top", "values": [200, 400, 600], "tickSize": 10, "labels": false, "title": null}}}},
  {"data": {"values": [{"x": 777.8, "y": 465, "t": "(b) Gated Raman"}]}, "mark": {"type": "text", "align": "right", "baseline": "middle", "fontSize": 19, "color": "black"},
   "encoding": {"x": {"field": "x", "type": "quantitative", "axis": null}, "y": {"field": "y", "type": "quantitative", "axis": null}, "text": {"field": "t"}}},
  {"data": {"values": [{"x": 777.8, "y": 440, "t": "1 kHz Pulse, 20 ns Gate"}]}, "mark": {"type": "text", "align": "right", "baseline": "middle", "fontSize": 16.5, "color": "black"},
   "encoding": {"x": {"field": "x", "type": "quantitative", "axis": null}, "y": {"field": "y", "type": "quantitative", "axis": null}, "text": {"field": "t"}}},
  {"data": {"values": [{"x": -104.4, "x2": 34.9, "y": 417, "y2": 394}, {"x": -97.1, "x2": 33.5, "y": 251.3, "y2": 227.3}, {"x": -69.2, "x2": 48.1, "y": 111.3, "y2": 87.3}]},
   "mark": {"type": "rect", "fill": "white", "stroke": "black", "strokeWidth": 1.2},
   "encoding": {"x": {"field": "x", "type": "quantitative", "axis": null}, "x2": {"field": "x2"}, "y": {"field": "y", "type": "quantitative", "axis": null}, "y2": {"field": "y2"}}},
  {"data": {"values": [{"x": -35.1, "y": 405.5, "t": "1500 K"}, {"x": -31.8, "y": 239.3, "t": "1300 K"}, {"x": -10.5, "y": 99.3, "t": "300 K"}]},
   "mark": {"type": "text", "align": "center", "baseline": "middle", "fontSize": 16, "color": "black"},
   "encoding": {"x": {"field": "x", "type": "quantitative", "axis": null}, "y": {"field": "y", "type": "quantitative", "axis": null}, "text": {"field": "t"}}}
 ],
 "resolve": {"axis": {"x": "independent", "y": "independent"}}
}
]
}
